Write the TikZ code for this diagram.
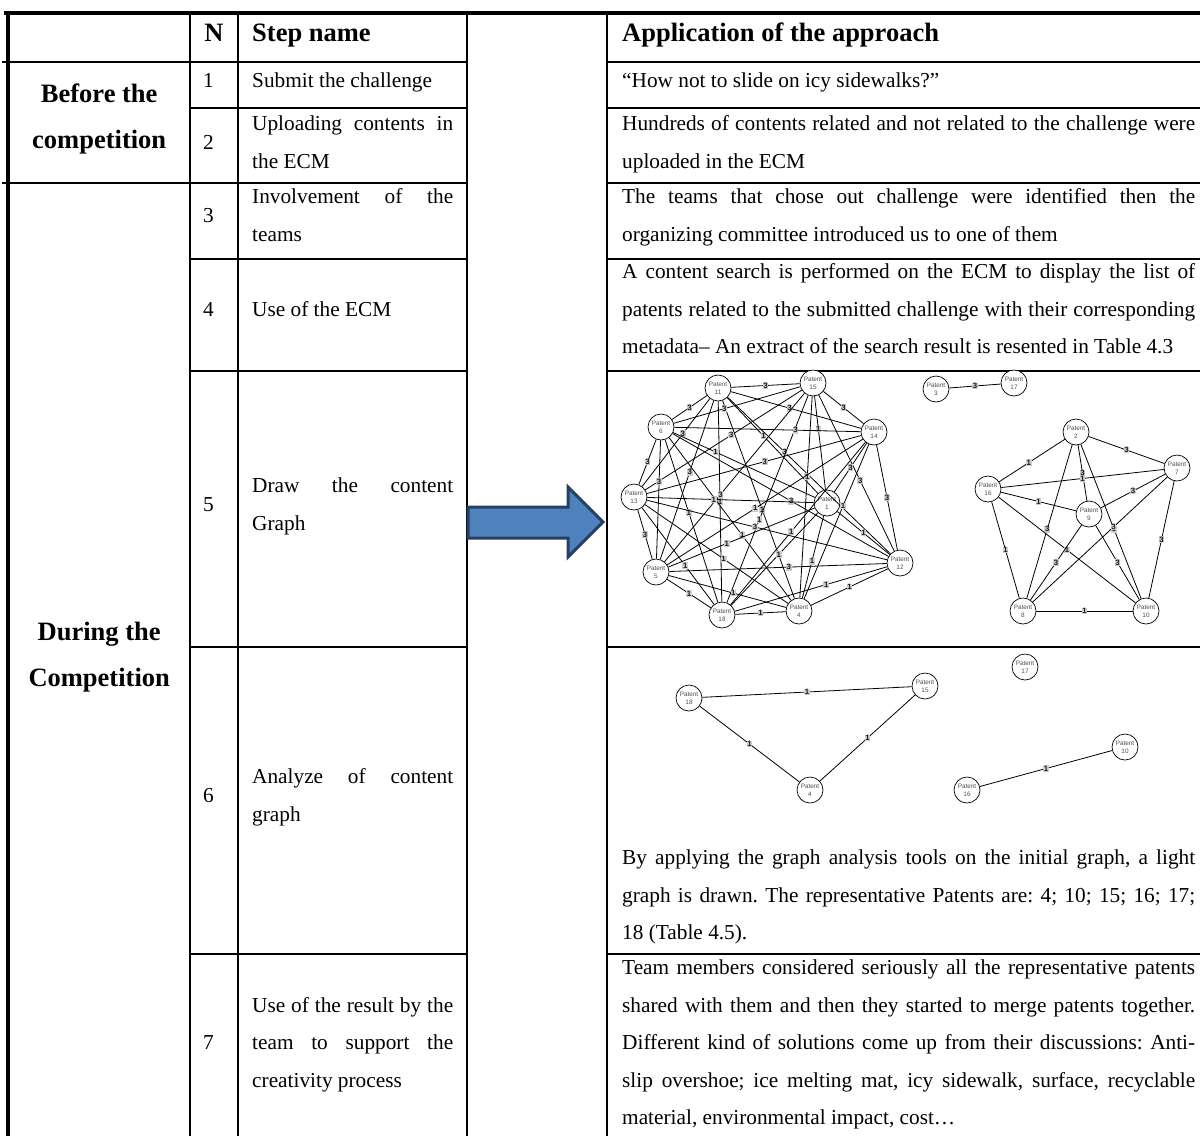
\documentclass[tikz,border=0pt]{standalone}
\usepackage{fontspec}
\setmainfont{Liberation Serif}
\newfontfamily\graphfont{Liberation Sans}
\usetikzlibrary{calc}

\definecolor{arrowfill}{RGB}{79,129,189}
\definecolor{arrowedge}{RGB}{38,64,98}
\definecolor{patentgray}{RGB}{80,80,80}
\definecolor{weightbg}{RGB}{205,205,205}

% text of a table cell: fixed-width lines stacked on a fixed baseline grid
\newdimen\cellw
\newcommand\jline[1]{\hbox to\cellw{#1}}          % justified line
\newcommand\pline[1]{\hbox to\cellw{#1\hfil}}     % last (ragged) line
\newcommand\mline[1]{\hbox to\cellw{\hfil#1\hfil}}% centred line
\newcommand\celltext[3]{\vtop{\cellw=#1\relax\baselineskip=#2\relax #3}}
\newcommand\bodysize{\fontsize{21.3pt}{37.5pt}\selectfont\frenchspacing}
\newcommand\headsize{\fontsize{26.5pt}{46pt}\selectfont\bfseries}

\tikzset{
  frame/.style={line width=4pt},
  rule/.style={line width=2.2pt},
  txt/.style={anchor=base west, inner sep=0pt, font=\bodysize},
  head/.style={anchor=base west, inner sep=0pt, font=\headsize},
  patent/.style={circle, draw, line width=0.7pt, minimum size=26pt, inner sep=0pt,
    fill=white, text=patentgray, align=center,
    font=\graphfont\fontsize{6.4pt}{7.8pt}\selectfont},
  link/.style={line width=0.8pt},
  weight/.style={fill=weightbg, inner sep=0.7pt, text=black!90,
    font=\graphfont\bfseries\fontsize{7.8pt}{7.8pt}\selectfont},
  bigarrow/.style={fill=arrowfill, draw=arrowedge, line width=3pt, line join=miter}
}

\begin{document}
\begin{tikzpicture}[x=1pt, y=-1pt]
\useasboundingbox (0,0) rectangle (1200,1136);
\fill[white] (0,0) rectangle (1200,1136);

% ---------- table rules ----------
\draw[frame] (4,13) -- (1200,13);
\draw[frame] (8,11) -- (8,1136);
\foreach \x in {190,238,467,607} \draw[rule] (\x,13) -- (\x,1136);
\foreach \y in {62,183} {
  \draw[rule] (2,\y) -- (467,\y);
  \draw[rule] (607,\y) -- (1200,\y);
}
\foreach \y in {108,259,371,647,954} {
  \draw[rule] (190,\y) -- (467,\y);
  \draw[rule] (607,\y) -- (1200,\y);
}

% ---------- header ----------
\node[head, anchor=base] (hN) at (214,41) {N};
\node[head] (hStep) at (252,41) {Step name};
\node[head] (hApp) at (622,41) {Application of the approach};

% ---------- phases ----------
\node[head] (before) at (8,102)
  {\celltext{182pt}{46pt}{\mline{Before the}\mline{competition}}};
\node[head] (during) at (8,640)
  {\celltext{182pt}{46pt}{\mline{During the}\mline{Competition}}};

% ---------- step numbers ----------
\node[txt] (n1) at (203,87) {1};
\node[txt] (n2) at (203,149) {2};
\node[txt] (n3) at (203,222) {3};
\node[txt] (n4) at (203,316) {4};
\node[txt] (n5) at (203,511) {5};
\node[txt] (n6) at (203,802) {6};
\node[txt] (n7) at (203,1049) {7};

% ---------- step names ----------
\node[txt] (s1) at (252,87) {Submit the challenge};
\node[txt] (s2) at (252,130.5)
  {\celltext{201pt}{37.5pt}{\jline{Uploading contents in}\pline{the ECM}}};
\node[txt] (s3) at (252,203.5)
  {\celltext{201pt}{37.5pt}{\jline{Involvement of the}\pline{teams}}};
\node[txt] (s4) at (252,316) {Use of the ECM};
\node[txt] (s5) at (252,492.5)
  {\celltext{201pt}{37.5pt}{\jline{Draw the content}\pline{Graph}}};
\node[txt] (s6) at (252,783.5)
  {\celltext{201pt}{37.5pt}{\jline{Analyze of content}\pline{graph}}};
\node[txt] (s7) at (252,1012)
  {\celltext{201pt}{37.5pt}{\jline{Use of the result by the}\jline{team to support the}\pline{creativity process}}};

% ---------- application ----------
\node[txt] (a1) at (622,87) {“How not to slide on icy sidewalks?”};
\node[txt] (a2) at (622,130.5)
  {\celltext{573pt}{37.5pt}{%
    \jline{Hundreds of contents related and not related to the challenge were}%
    \pline{uploaded in the ECM}}};
\node[txt] (a3) at (622,203.5)
  {\celltext{573pt}{37.5pt}{%
    \jline{The teams that chose out challenge were identified then the}%
    \pline{organizing committee introduced us to one of them}}};
\node[txt] (a4) at (622,278.5)
  {\celltext{573pt}{37.5pt}{%
    \jline{A content search is performed on the ECM to display the list of}%
    \jline{patents related to the submitted challenge with their corresponding}%
    \pline{metadata– An extract of the search result is resented in Table 4.3}}};
\node[txt] (a6) at (622,864.5)
  {\celltext{573pt}{37.5pt}{%
    \jline{By applying the graph analysis tools on the initial graph, a light}%
    \jline{graph is drawn. The representative Patents are: 4; 10; 15; 16; 17;}%
    \pline{18 (Table 4.5).}}};
\node[txt] (a7) at (622,974.5)
  {\celltext{573pt}{37.5pt}{%
    \jline{Team members considered seriously all the representative patents}%
    \jline{shared with them and then they started to merge patents together.}%
    \jline{Different kind of solutions come up from their discussions: Anti-}%
    \jline{slip overshoe; ice melting mat, icy sidewalk, surface, recyclable}%
    \pline{material, environmental impact, cost…}}};

% ---------- block arrow ----------
\draw[bigarrow] (468,507) -- (568,507) -- (568,487) -- (603,522)
  -- (568,557) -- (568,538) -- (468,538) -- cycle;

% ---------- initial content graph ----------
\node[patent] (g11) at (718,388) {Patent\\11};
\node[patent] (g15) at (813,383) {Patent\\15};
\node[patent] (g6)  at (661,427) {Patent\\6};
\node[patent] (g14) at (874,432) {Patent\\14};
\node[patent] (g13) at (634,497) {Patent\\13};
\node[patent] (g1)  at (827,503) {Patent\\1};
\node[patent] (g12) at (900,563) {Patent\\12};
\node[patent] (g5)  at (656,572) {Patent\\5};
\node[patent] (g18) at (722,615) {Patent\\18};
\node[patent] (g4)  at (799,611) {Patent\\4};
\foreach \p/\q/\w/\t in {
  11/15/3/.5, 11/6/3/.5, 11/14/3/.45, 11/13/3/.4, 11/1/1/.4, 11/12/3/.35,
  11/5/3/.45, 11/18/1/.5, 11/4/1/.55,
  15/6/3/.6, 15/14/3/.5, 15/13/3/.45, 15/1/1/.35, 15/12/3/.55, 15/5/3/.6,
  15/18/1/.6, 15/4/1/.4,
  6/14/3/.65, 6/13/3/.5, 6/1/1/.3, 6/12/3/.55, 6/5/3/.35, 6/18/1/.45, 6/4/1/.6,
  14/13/3/.45, 14/1/3/.5, 14/12/3/.5, 14/5/1/.55, 14/18/1/.55, 14/4/1/.4,
  13/1/1/.4, 13/12/3/.45, 13/5/3/.5, 13/18/1/.6, 13/4/1/.55,
  1/12/1/.5, 1/5/1/.6, 1/18/1/.45, 1/4/1/.55,
  12/5/3/.45, 12/18/1/.4, 12/4/1/.5,
  5/18/1/.5, 5/4/1/.55,
  18/4/1/.5}
  \draw[link] (g\p) -- node[weight, pos=\t] {\w} (g\q);

\node[patent] (g3)  at (936,389)  {Patent\\3};
\node[patent] (g17) at (1014,383) {Patent\\17};
\node[patent] (g2)  at (1076,432) {Patent\\2};
\node[patent] (g7)  at (1177,468) {Patent\\7};
\node[patent] (g16) at (988,489)  {Patent\\16};
\node[patent] (g9)  at (1089,514) {Patent\\9};
\node[patent] (g8)  at (1023,611) {Patent\\8};
\node[patent] (g10) at (1146,611) {Patent\\10};
\foreach \p/\q/\w/\t in {
  3/17/3/.5, 2/16/1/.55, 2/7/3/.5, 2/9/3/.5, 2/8/3/.55, 2/10/3/.55,
  16/7/1/.5, 16/9/1/.5, 16/8/1/.5, 16/10/1/.5,
  9/7/3/.5, 9/8/3/.5, 9/10/3/.5, 7/8/3/.4, 7/10/3/.5, 8/10/1/.5}
  \draw[link] (g\p) -- node[weight, pos=\t] {\w} (g\q);

% ---------- light graph ----------
\node[patent] (h18) at (689,698)  {Patent\\18};
\node[patent] (h15) at (925,686)  {Patent\\15};
\node[patent] (h4)  at (810,790)  {Patent\\4};
\node[patent] (h17) at (1025,667) {Patent\\17};
\node[patent] (h10) at (1125,747) {Patent\\10};
\node[patent] (h16) at (967,790)  {Patent\\16};
\draw[link] (h18) -- node[weight] {1} (h15);
\draw[link] (h18) -- node[weight] {1} (h4);
\draw[link] (h15) -- node[weight] {1} (h4);
\draw[link] (h16) -- node[weight] {1} (h10);
\end{tikzpicture}
\end{document}
